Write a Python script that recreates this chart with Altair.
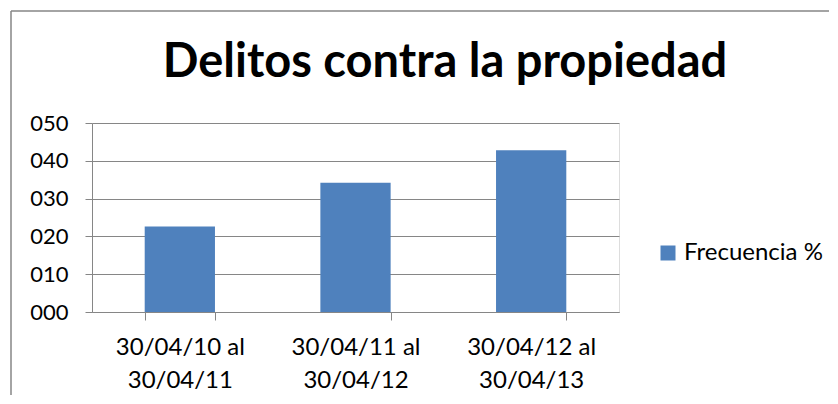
import altair as alt
import pandas as pd

TITLE = "Delitos contra la propiedad"
periodos = ["30/04/10 al\n30/04/11", "30/04/11 al\n30/04/12", "30/04/12 al\n30/04/13"]
frecuencia = [22.6, 34.2, 42.8]
serie = "Frecuencia %"

FONT = "Lato"
GRAY = "#868686"
BLUE = "#4F81BD"

df = pd.DataFrame({"periodo": periodos, "valor": frecuencia, "serie": [serie] * 3})

bars = alt.Chart(df).mark_bar(color=BLUE).encode(
    x=alt.X("periodo:N", sort=periodos, title=None,
            scale=alt.Scale(paddingInner=0.6, paddingOuter=0.3),
            axis=alt.Axis(labelAngle=0, labelExpr="split(datum.label, '\\n')",
                          labelLineHeight=33, labelFontSize=24, labelFont=FONT,
                          labelColor="#000000", labelPadding=15,
                          tickBand="extent", tickSize=8, tickColor=GRAY,
                          domainColor=GRAY, grid=False)),
    y=alt.Y("valor:Q", title=None,
            scale=alt.Scale(domain=[0, 50], nice=False),
            axis=alt.Axis(values=[0, 10, 20, 30, 40, 50], format="03d",
                          labelFontSize=22, labelFont=FONT, labelColor="#000000",
                          labelPadding=17, tickSize=7, tickColor=GRAY,
                          domainColor=GRAY, gridColor=GRAY, gridOpacity=1)),
    color=alt.Color("serie:N", scale=alt.Scale(range=[BLUE]),
                    legend=alt.Legend(title=None, orient="none", legendX=564, legendY=118,
                                      symbolType="square", symbolSize=225,
                                      symbolStrokeWidth=0, labelFontSize=24,
                                      labelFont=FONT, labelColor="#000000",
                                      labelOffset=4, padding=0)),
)

one = pd.DataFrame({"t": [TITLE]})
title = alt.Chart(one).mark_text(font=FONT, fontSize=47, fontWeight="bold",
                                 align="center", baseline="alphabetic", color="#000000").encode(
    x=alt.value(353), y=alt.value(-46), text="t:N")

border_left = alt.Chart(one).mark_rule(color=GRAY, strokeWidth=1.5).encode(
    x=alt.value(-81), y=alt.value(-112), y2=alt.value(300))
border_top = alt.Chart(one).mark_rule(color=GRAY, strokeWidth=1.5).encode(
    x=alt.value(-81), x2=alt.value(760), y=alt.value(-112))

chart = alt.layer(border_left, border_top, bars, title).properties(
    width=527, height=189,
    padding={"left": 84, "top": 115, "right": 210, "bottom": 83},
    autosize=alt.AutoSizeParams(type="none"),
).configure_view(stroke=None).configure(background="#ffffff")

chart.save("out.html", embed_options={"renderer": "svg", "actions": False})
